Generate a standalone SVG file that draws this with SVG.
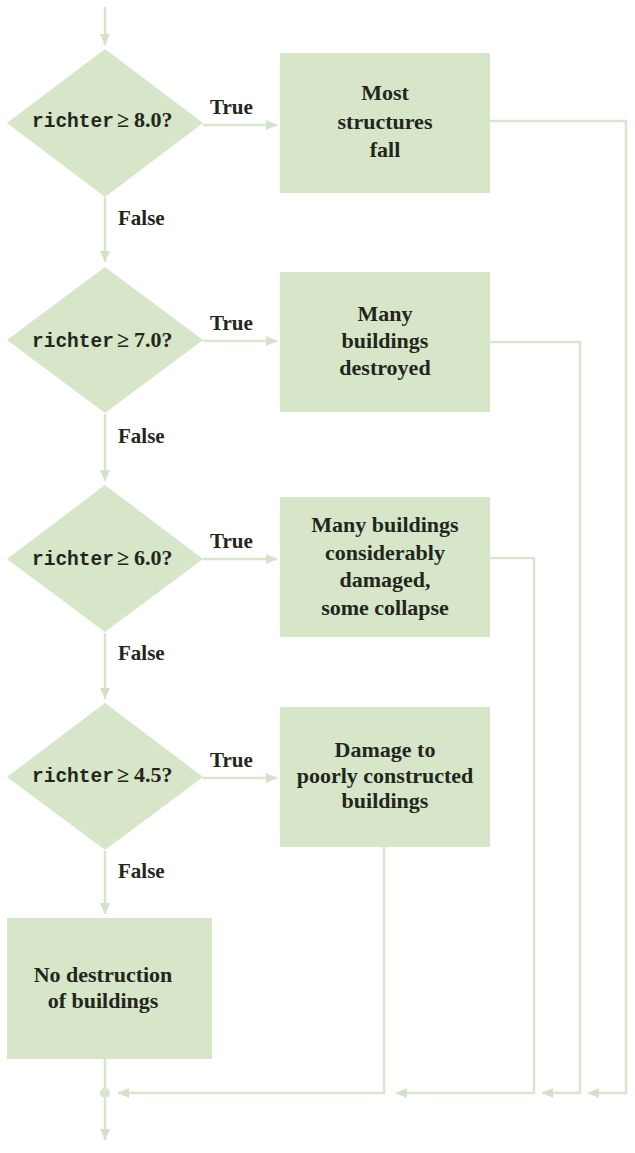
<svg xmlns="http://www.w3.org/2000/svg" width="635" height="1153" viewBox="0 0 635 1153">
<style>
.shape{fill:#d7e6c8;}
.line{fill:none;stroke:#d9e6ce;stroke-width:2.5;}
.t{font-family:"Liberation Serif",serif;font-weight:bold;font-size:22px;fill:#22261c;text-anchor:middle;}
.lbl{font-family:"Liberation Serif",serif;font-weight:bold;font-size:21px;fill:#22261c;}
.mono{font-family:"Liberation Mono",monospace;font-weight:bold;font-size:19.5px;fill:#22261c;}
.ser{font-family:"Liberation Serif",serif;font-weight:bold;font-size:22px;fill:#22261c;}
</style>
<defs>
<marker id="ah" markerUnits="userSpaceOnUse" markerWidth="12" markerHeight="12" viewBox="0 0 12 12" refX="11" refY="6" orient="auto">
<path d="M0,1 L11,6 L0,11 Z" fill="#d3e1c6"/>
</marker>
</defs>
<rect width="635" height="1153" fill="#ffffff"/>
<g id="connectors">
<path class="line" d="M105,7 V45" marker-end="url(#ah)"/>
<path class="line" d="M105,197 V262" marker-end="url(#ah)"/>
<path class="line" d="M105,414 V481" marker-end="url(#ah)"/>
<path class="line" d="M105,633 V699" marker-end="url(#ah)"/>
<path class="line" d="M105,851 V914" marker-end="url(#ah)"/>
<path class="line" d="M203,125 H277" marker-end="url(#ah)"/>
<path class="line" d="M203,341 H277" marker-end="url(#ah)"/>
<path class="line" d="M203,559 H277" marker-end="url(#ah)"/>
<path class="line" d="M203,778 H277" marker-end="url(#ah)"/>
<path class="line" d="M490,121 H626 V1093 H588" marker-end="url(#ah)"/>
<path class="line" d="M490,342 H580 V1093 H542" marker-end="url(#ah)"/>
<path class="line" d="M490,558 H534 V1093 H396" marker-end="url(#ah)"/>
<path class="line" d="M384,847 V1093 H118" marker-end="url(#ah)"/>
<path class="line" d="M105,1059 V1140" marker-end="url(#ah)"/>
<circle cx="105" cy="1093" r="5" fill="#d9e6ce"/>
<text class="lbl" x="210" y="114">True</text>
<text class="lbl" x="210" y="330">True</text>
<text class="lbl" x="210" y="548">True</text>
<text class="lbl" x="210" y="767">True</text>
<text class="lbl" x="118" y="225">False</text>
<text class="lbl" x="118" y="443">False</text>
<text class="lbl" x="118" y="660">False</text>
<text class="lbl" x="118" y="878">False</text>
</g>
<g id="d1">
<polygon class="shape" points="105,49 203,123 105,197 7,123"/>
<text y="127"><tspan class="mono" x="32">richter</tspan><tspan class="ser" x="117">≥</tspan><tspan class="ser" x="134">8.0?</tspan></text>
</g>
<g id="d2">
<polygon class="shape" points="105,267 203,340 105,413 7,340"/>
<text y="347"><tspan class="mono" x="32">richter</tspan><tspan class="ser" x="117">≥</tspan><tspan class="ser" x="134">7.0?</tspan></text>
</g>
<g id="d3">
<polygon class="shape" points="105,485 203,559 105,632 7,559"/>
<text y="565"><tspan class="mono" x="32">richter</tspan><tspan class="ser" x="117">≥</tspan><tspan class="ser" x="134">6.0?</tspan></text>
</g>
<g id="d4">
<polygon class="shape" points="105,703 203,777 105,850 7,777"/>
<text y="782"><tspan class="mono" x="32">richter</tspan><tspan class="ser" x="117">≥</tspan><tspan class="ser" x="134">4.5?</tspan></text>
</g>
<g id="b1">
<rect class="shape" x="280" y="53" width="210" height="140"/>
<text class="t" x="385" y="100">Most</text>
<text class="t" x="385" y="129">structures</text>
<text class="t" x="385" y="157">fall</text>
</g>
<g id="b2">
<rect class="shape" x="280" y="272" width="210" height="140"/>
<text class="t" x="385" y="321">Many</text>
<text class="t" x="385" y="348">buildings</text>
<text class="t" x="385" y="375">destroyed</text>
</g>
<g id="b3">
<rect class="shape" x="280" y="497" width="210" height="140"/>
<text class="t" x="385" y="532">Many buildings</text>
<text class="t" x="385" y="560">considerably</text>
<text class="t" x="385" y="587">damaged,</text>
<text class="t" x="385" y="615">some collapse</text>
</g>
<g id="b4">
<rect class="shape" x="280" y="707" width="210" height="140"/>
<text class="t" x="385" y="757">Damage to</text>
<text class="t" x="385" y="783">poorly constructed</text>
<text class="t" x="385" y="808">buildings</text>
</g>
<g id="b5">
<rect class="shape" x="7" y="918" width="205" height="141"/>
<text class="t" x="103" y="982">No destruction</text>
<text class="t" x="103" y="1008">of buildings</text>
</g>
</svg>
